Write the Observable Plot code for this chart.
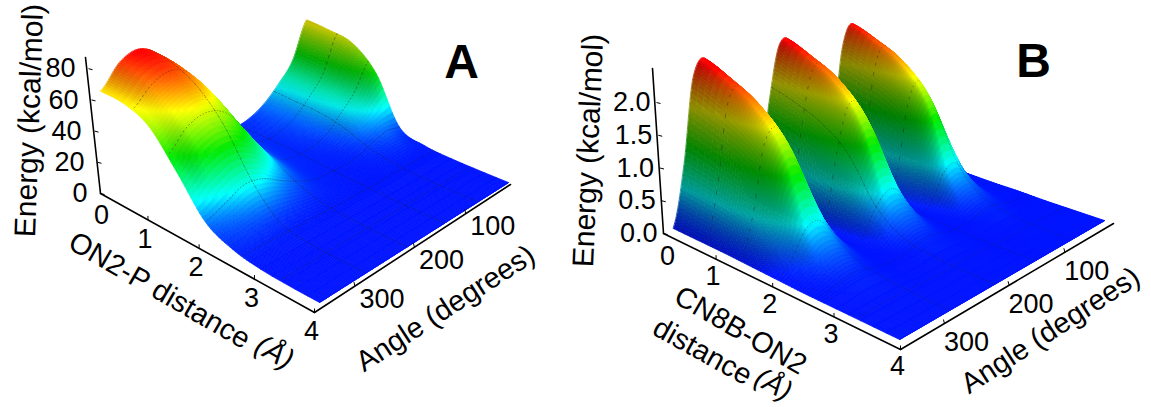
<!DOCTYPE html>
<html><head><meta charset="utf-8">
<style>html,body{margin:0;padding:0;background:#fff}svg{display:block}</style>
<script src="https://cdn.jsdelivr.net/npm/d3@7"></script>
<script src="https://cdn.jsdelivr.net/npm/@observablehq/plot@0.6"></script>
</head><body><div id="chart"></div>
<script>
// distance samples shared by both surfaces (Å)
const distances=[0,.5,1,1.5,2,2.5,3,3.5,4];
// Panel A: energy (kcal/mol), one row per angle
const anglesA=[0,30,60,90,120,150,180,210,240,270,300,330,360];
const energyA=[
 [62,60,56,40,8,2,.5,.1,0],
 [35,34,32,26,10,2,.5,.1,0],
 [22,21,20,16,7,2,.4,.1,0],
 [12,11,10,7,3.5,1.5,.3,.1,0],
 [6,6,5,3.5,2,1,.3,.1,0],
 [4,4,3.5,3,2,1,.3,.1,0],
 [8,8,7,5,3,1.5,.4,.1,0],
 [22,21,19,14,7,2,.5,.1,0],
 [45,44,40,30,13,3,.6,.1,0],
 [70,68,61,45,20,4,.8,.2,0],
 [80,77,68,50,22,5,1,.2,0],
 [76,73,64,46,17,5,1,.2,0],
 [62,61,54,34,12,4,1,.2,0]];
// Panel B: energy (kcal/mol), one row per angle
const anglesB=[0,20,40,60,80,100,120,140,160,180,200,220,240,260,280,300,320,340,360];
const energyB=[
 [.02,.02,.02,.02,.01,.01,0,0,0],
 [.1,.1,.09,.07,.03,.01,0,0,0],
 [.5,.47,.42,.32,.12,.04,.01,0,0],
 [1.75,1.64,1.47,1.1,.42,.12,.03,.01,0],
 [2.38,2.22,2,1.55,.6,.17,.05,.01,0],
 [2,1.87,1.68,1.28,.5,.13,.03,.01,0],
 [.6,.56,.5,.37,.14,.04,.01,0,0],
 [.12,.11,.1,.08,.03,.01,0,0,0],
 [.7,.66,.58,.44,.18,.05,.02,.01,0],
 [2.2,2.05,1.85,1.42,.55,.15,.04,.01,0],
 [2.38,2.22,2,1.55,.6,.17,.05,.01,0],
 [1.5,1.4,1.25,.95,.38,.1,.03,.01,0],
 [.25,.23,.2,.15,.06,.02,0,0,0],
 [.15,.14,.12,.09,.04,.01,0,0,0],
 [1.2,1.12,1,.75,.3,.08,.03,.01,0],
 [2.38,2.22,2,1.55,.6,.17,.05,.01,0],
 [2.25,2.1,1.88,1.44,.56,.15,.05,.01,0],
 [.95,.89,.8,.58,.22,.06,.02,.01,0],
 [.03,.03,.03,.02,.01,0,0,0,0]];
const distTicks=[0,1,2,3,4];
const angleTicks=[100,200,300];
const energyTicksA=[0,20,40,60,80];
const energyTicksB=[0,.5,1,1.5,2];
const gridD=[2/3,4/3,2,8/3,10/3];
const gridA=[72,144,216,288];

const fd=d=>{const s=d/4;return s/(1+.17*(1-s))};
const fa=a=>{const s=(360-a)/360;return s*1.3/(1+.3*s)};
const lerp=(p,q,t)=>[p[0]+(q[0]-p[0])*t,p[1]+(q[1]-p[1])*t];
const cr=(p0,p1,p2,p3,t)=>.5*(2*p1+(p2-p0)*t+(2*p0-5*p1+4*p2-p3)*t*t+(3*p1-p0-3*p2+p3)*t*t*t);
function segment(xs,v){let i=0;while(i<xs.length-2&&v>xs[i+1])i++;return [i,(v-xs[i])/(xs[i+1]-xs[i])]}
function evalE(P,d,a){
  const [i,t]=segment(P.angles,a),[j,s]=segment(distances,d);
  const row=r=>{const R=P.energy[Math.max(0,Math.min(P.angles.length-1,r))],g=k=>R[Math.max(0,Math.min(8,k))];
    return cr(g(j-1),g(j),g(j+1),g(j+2),s)};
  return Math.max(0,cr(row(i-1),row(i),row(i+1),row(i+2),t));
}
function project(P,d,a,E){
  const u=fd(d),v=fa(a);
  const near=lerp(P.S.d0a360,P.S.d4a360,u),far=lerp(P.S.d0a0,P.S.d4a0,u),b=lerp(near,far,v);
  const hn=lerp(P.H.d0a360,P.H.d4a360,u),hf=lerp(P.H.d0a0,P.H.d4a0,u),h=lerp(hn,hf,v);
  return [b[0]+h[0]*E,b[1]+h[1]*E];
}
const stops=[[0,[0,20,255]],[.25,[0,255,255]],[.5,[0,235,0]],[.75,[255,255,0]],[1,[255,0,0]]];
function jet(t){t=Math.max(0,Math.min(1,t));let k=0;while(k<3&&t>stops[k+1][0])k++;
  let q=(t-stops[k][0])/.25;if(k==0)q=Math.pow(q,1.5);return stops[k][1].map((c,n)=>c+(stops[k+1][1][n]-c)*q)}
function shadeColor(P,d,a){
  const E=evalE(P,d,a)/P.emax;
  const dv=(fa(Math.max(0,a-5))-fa(Math.min(360,a+5)));
  const Ev=.7*(evalE(P,d,Math.max(0,a-5))-evalE(P,d,Math.min(360,a+5)))/P.emax/dv;
  const m=Ev>.8?1-P.shade*(Ev-.8)/(Ev+1):1;
  const c=jet(E);
  return `rgb(${c.map(x=>Math.round(x*m)).join(",")})`;
}
const dSteps=[...d3.range(0,.6,.12),...d3.range(.6,2.8,.05),...d3.range(2.8,4,.2),4];
function surfaceMarks(P){
  const nv=P.nv,marks=[];let id=0;
  for(let iv=0;iv<nv;iv++){
    const a0=360*iv/nv,a1=360*(iv+1)/nv; // painted from angle 0 (far) to 360 (near)
    const quads=[],lines=[];
    for(let iu=0;iu<dSteps.length-1;iu++){
      const d0=dSteps[iu],d1=dSteps[iu+1],c=shadeColor(P,(d0+d1)/2,(a0+a1)/2);
      for(const [dd,aa] of [[d0,a0],[d1,a0],[d1,a1],[d0,a1]]){
        const [x,y]=project(P,dd,aa,evalE(P,dd,aa));quads.push({x,y,id,c});
      }
      id++;
    }
    marks.push(Plot.line(quads,{x:"x",y:"y",z:"id",fill:"c",stroke:"c",strokeWidth:.7,curve:"linear-closed"}));
    // dotted grid pieces that belong to this strip, so nearer ridges hide them
    if(iv%P.dotEvery==0){
      for(const g of gridD){
        for(const aa of [a0,a1]){const [x,y]=project(P,g,aa,evalE(P,g,aa));lines.push({x,y,k:"d"+g})}
      }
      marks.push(Plot.line(lines,{x:"x",y:"y",z:"k",stroke:"#222",strokeWidth:.7,strokeOpacity:.6}));
    }
    for(const g of gridA){
      if(g>=a0&&g<a1){
        const row=d3.range(0,4.001,.05).map(dd=>{const [x,y]=project(P,dd,g,evalE(P,dd,g));return {x,y}});
        marks.push(Plot.line(row,{x:"x",y:"y",stroke:"#222",strokeWidth:.7,strokeOpacity:.55,strokeDasharray:"3 2 1 2"}));
      }
    }
  }
  return marks;
}
function axisMarks(P){
  const A=P.axis,dP=d=>lerp(A.O,A.D4,fd(d)),aP=a=>lerp(A.D4,A.A0,fa(a)),eP=e=>[A.O[0]+e*A.Ev[0],A.O[1]+e*A.Ev[1]];
  const axisStyle={stroke:"#000",strokeWidth:1.6};
  const fs=27,font="Liberation Sans";
  const T=(rows,o)=>Plot.text(rows,{x:"x",y:"y",text:"t",fontSize:fs,fontFamily:font,fill:"#000",...o});
  const marks=[
    Plot.line([A.O,A.D4],{x:"0",y:"1",...axisStyle}),
    Plot.line([A.D4,A.A0],{x:"0",y:"1",...axisStyle}),
    Plot.line([A.O,A.Top],{x:"0",y:"1",...axisStyle}),
    Plot.link(P.dt,{x1:d=>dP(d)[0],y1:d=>dP(d)[1],x2:d=>dP(d)[0],y2:d=>dP(d)[1]-4,...axisStyle,strokeWidth:1}),
    Plot.link(angleTicks,{x1:d=>aP(d)[0],y1:d=>aP(d)[1],x2:d=>aP(d)[0]-1,y2:d=>aP(d)[1]-4,...axisStyle,strokeWidth:1}),
    Plot.link(P.et,{x1:d=>eP(d)[0],y1:d=>eP(d)[1],x2:d=>eP(d)[0]+4,y2:d=>eP(d)[1]+1,...axisStyle,strokeWidth:1}),
    T(P.et.map(e=>({x:eP(e)[0]+A.elx,y:eP(e)[1],t:P.fmt(e)})),{textAnchor:"end"}),
    T(distTicks.map(d=>({x:dP(d)[0]+A.dl[0]+(d==0?A.d0[0]:0),y:dP(d)[1]+A.dl[1]+(d==0?A.d0[1]:0),t:String(d)})),{}),
    T(angleTicks.map(a=>({x:aP(a)[0]+A.al[0],y:aP(a)[1]+A.al[1],t:String(a)})),{}),
  ];
  for(const t of P.titles) marks.push(T([{x:t.x,y:t.y,t:t.t}],{rotate:t.r,fontStyle:t.i?"italic":"normal",fontSize:t.fs||29}));
  marks.push(T([{x:P.letter.x,y:P.letter.y,t:P.letter.t}],{fontSize:48,fontWeight:"bold"}));
  return marks;
}
const panelA={angles:anglesA,energy:energyA,emax:80,shade:.45,nv:170,dotEvery:2,et:energyTicksA,dt:distTicks,fmt:e=>String(e),
  S:{d0a360:[110,190],d4a360:[319,302],d0a0:[305,100],d4a0:[508,182]},
  H:{d0a360:[-.16,-1.6],d4a360:[-.1,-1.8],d0a0:[.02,-1.3],d4a0:[.1,-1.5]},
  axis:{O:[100,193],D4:[314,312],A0:[510,184],Top:[85,57],Ev:[-.15,-1.56],dl:[-3,19],d0:[4,3],al:[27,13],elx:-13},
  titles:[{t:"Energy (kcal/mol)",x:29,y:120,r:-88,fs:30},{t:"ON2-P distance",x:159,y:290,r:30},{t:"(Å)",x:274,y:352,r:30,i:true},{t:"Angle (degrees)",x:445,y:308,r:-33}],
  letter:{t:"A",x:461,y:62}};
const panelB={angles:anglesB,energy:energyB,emax:2.4,shade:.6,nv:300,dotEvery:3,et:energyTicksB,dt:distTicks,fmt:e=>e.toFixed(1),
  S:{d0a360:[673,230],d4a360:[899,339],d0a0:[895,150],d4a0:[1104,220]},
  H:{d0a360:[-5.5,-65],d4a360:[-4,-72],d0a0:[0,-58],d4a0:[3,-65]},
  axis:{O:[663,233],D4:[900,349],A0:[1113,223],Top:[652,68],Ev:[-3.5,-65.5],dl:[-3,17],d0:[7,6],al:[22,19],elx:-6},
  titles:[{t:"Energy (kcal/mol)",x:588,y:150,r:-87.5,fs:30},{t:"CN8B-ON2",x:740,y:330,r:30},{t:"distance",x:702,y:351,r:29},{t:"(Å)",x:773,y:384,r:29,i:true,fs:28},{t:"Angle (degrees)",x:1050,y:330,r:-33}],
  letter:{t:"B",x:1033,y:61}};
const plot=Plot.plot({width:1151,height:407,margin:0,
  x:{type:"linear",domain:[0,1151],range:[0,1151],axis:null},
  y:{type:"linear",domain:[0,407],range:[0,407],axis:null},
  color:{type:"identity"},
  marks:[...surfaceMarks(panelA),...surfaceMarks(panelB),...axisMarks(panelA),...axisMarks(panelB)]});
plot.style.background="#fff";
document.getElementById("chart").append(plot);
</script></body></html>
